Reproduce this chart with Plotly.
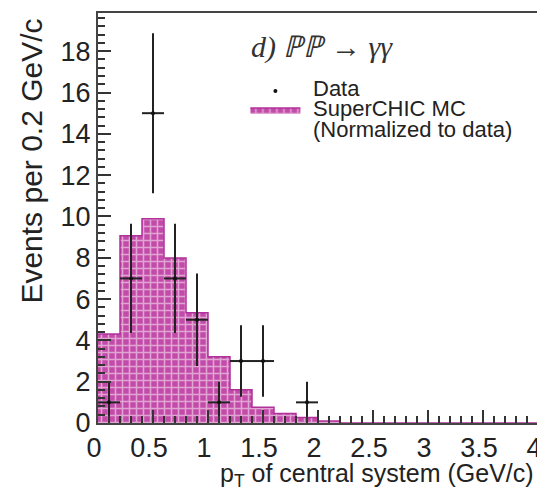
import numpy as np
import plotly.graph_objects as go

# ---- data ----
bin_width = 0.2
mc_edges_left = [round(i * 0.2, 1) for i in range(20)]
mc_counts = [4.31, 9.06, 9.89, 7.99, 5.34, 3.21, 1.61, 0.76, 0.46, 0.27,
             0.10, 0, 0, 0, 0, 0, 0, 0, 0, 0]
data_x = [0.1, 0.3, 0.5, 0.7, 0.9, 1.1, 1.3, 1.5, 1.9]
data_y = [1, 7, 15, 7, 5, 1, 3, 3, 1]

x_ticks = [0, 0.5, 1, 1.5, 2, 2.5, 3, 3.5, 4]
x_ticklabels = ["0", "0.5", "1", "1.5", "2", "2.5", "3", "3.5", "4"]
y_ticks = [0, 2, 4, 6, 8, 10, 12, 14, 16, 18]

legend_labels = ["Data", "SuperCHIC MC", "(Normalized to data)"]

MAG = "#c24aa8"
MAG_LINE = "#b1309a"
FONT = "Liberation Sans, Arial, sans-serif"

# step outline for histogram
step_x = mc_edges_left + [mc_edges_left[-1] + bin_width]
step_y = mc_counts + [mc_counts[-1]]

fig = go.Figure()
fig.add_trace(go.Scatter(
    x=step_x, y=step_y, mode="lines", line=dict(shape="hv", color=MAG_LINE, width=1.5),
    fill="tozeroy", fillcolor=MAG,
    fillpattern=dict(shape="+", fgcolor="white", bgcolor=MAG, size=7, solidity=0.4),
    name=" ",
))
fig.add_trace(go.Scatter(
    x=data_x, y=data_y, mode="markers",
    marker=dict(color="#111", size=4),
    error_y=dict(type="data", array=list(np.sqrt(data_y)), color="#222", thickness=2, width=0),
    error_x=dict(type="constant", value=bin_width / 2, color="#222", thickness=2, width=0),
    name=" ",
))

# page body has an 8px default margin; the figure is sized to fill the rest
fig.update_layout(
    width=537, height=484,
    margin=dict(l=90, r=4, t=3, b=69),
    paper_bgcolor="white", plot_bgcolor="white",
    font=dict(family=FONT, color="#222", size=27),
    showlegend=True,
    legend=dict(x=0.335, y=0.845, xanchor="left", yanchor="top",
                traceorder="reversed", bgcolor="rgba(0,0,0,0)",
                font=dict(size=9, family=FONT, color="#222"),
                itemwidth=50, tracegroupgap=0),
)
fig.update_xaxes(
    range=[0, 4], tickvals=x_ticks, ticktext=x_ticklabels,
    ticks="inside", ticklen=13, tickwidth=1.5, tickcolor="#333",
    minor=dict(dtick=0.1, ticks="inside", ticklen=7, tickwidth=1.5, tickcolor="#333"),
    showline=True, mirror=True, linecolor="#444", linewidth=2,
    showgrid=False, zeroline=False, tickfont=dict(size=27), layer="above traces",
    ticklabeloverflow="allow", ticklabelshift=-4,
)
fig.update_yaxes(
    range=[0, 19.85], tickvals=y_ticks,
    ticks="inside", ticklen=13, tickwidth=1.5, tickcolor="#333",
    minor=dict(dtick=0.4, ticks="inside", ticklen=7, tickwidth=1.5, tickcolor="#333"),
    showline=True, mirror=True, linecolor="#444", linewidth=2,
    showgrid=False, zeroline=False, tickfont=dict(size=27), layer="above traces",
)

fig.add_annotation(text="<i>d) ℙℙ → γγ</i>", xref="paper", yref="paper",
                   x=0.343, y=0.916, xanchor="left", yanchor="middle", showarrow=False,
                   font=dict(family="Liberation Serif, Times New Roman, serif", size=30, color="#333"))
for lbl, yy in zip(legend_labels, [0.815, 0.766, 0.716]):
    fig.add_annotation(text=lbl, xref="paper", yref="paper", x=0.483, y=yy,
                       xanchor="left", yanchor="middle", showarrow=False,
                       font=dict(family=FONT, size=22, color="#222"))
fig.add_annotation(text="p<sub>T</sub> of central system (GeV/c)", xref="paper", yref="paper",
                   x=0.996, y=-0.127, xanchor="right", yanchor="middle", showarrow=False,
                   font=dict(family=FONT, size=25, color="#222"))
fig.add_annotation(text="Events per 0.2 GeV/c", xref="paper", yref="paper",
                   x=-0.15, y=0.99, xanchor="center", yanchor="top", textangle=-90, showarrow=False,
                   font=dict(family=FONT, size=30, color="#222"))

fig.write_html("out.html")
